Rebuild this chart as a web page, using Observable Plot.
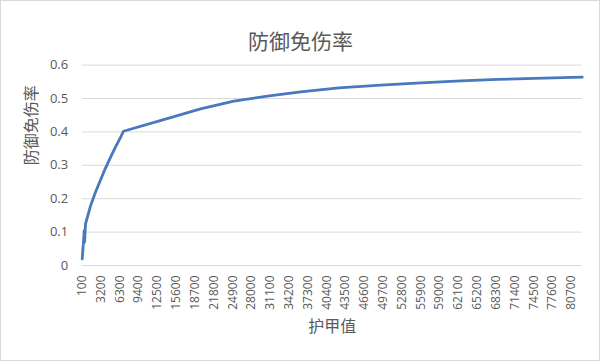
<!DOCTYPE html>
<html>
<head>
<meta charset="utf-8">
<script src="https://cdn.jsdelivr.net/npm/d3@7"></script>
<script src="https://cdn.jsdelivr.net/npm/@observablehq/plot@0.6"></script>
<style>
  html, body { margin: 0; padding: 0; background: #fff; }
  #wrap { position: relative; width: 600px; height: 361px; overflow: hidden; }
  #frame { position: absolute; left: 0; top: 0; width: 598px; height: 359px; border: 1px solid #d9d9d9; pointer-events: none; }
  svg { display: block; }
</style>
</head>
<body>
<div id="wrap"><div id="frame"></div></div>
<script>
const title = "防御免伤率";
const yLabel = "防御免伤率";
const xLabel = "护甲值";

const armor = [100, 450, 500, 650, 1500, 2300, 3100, 3900, 4800, 5600, 6400, 6900, 14100, 19600, 25100, 30600, 36100, 42400, 49300, 55900, 62500, 68500, 76200, 82500];
const rate  = [0.02, 0.105, 0.07, 0.125, 0.18, 0.22, 0.255, 0.29, 0.325, 0.355, 0.383, 0.402, 0.44, 0.469, 0.492, 0.507, 0.52, 0.532, 0.54, 0.547, 0.553, 0.557, 0.561, 0.564];

const xTicks = d3.range(100, 80701, 3100);
const yTicks = [0, 0.1, 0.2, 0.3, 0.4, 0.5, 0.6];

const data = armor.map((a, i) => ({armor: a, rate: rate[i]}));

const chart = Plot.plot({
  width: 600,
  height: 361,
  marginTop: 64.6,
  marginBottom: 96,
  marginLeft: 81.7,
  marginRight: 18.3,
  style: {background: "transparent", color: "#595959"},
  x: {domain: [100, 82500]},
  y: {domain: [0, 0.6]},
  marks: [
    Plot.gridY(yTicks, {stroke: "#d9d9d9", strokeOpacity: 1}),
    Plot.axisY(yTicks, {tickSize: 0, tickPadding: 14, label: null,
      tickFormat: d => d === 0 ? "0" : d.toFixed(1),
      fontSize: 13, fontFamily: "Open Sans", fill: "#595959"}),
    Plot.axisX(xTicks, {tickSize: 0, tickPadding: 10, tickRotate: -90, label: null,
      tickFormat: d => String(d), fontSize: 12, fontFamily: "Open Sans", fill: "#595959"}),
    Plot.line(data, {x: "armor", y: "rate", stroke: "#4878be", strokeWidth: 2.8, strokeLinejoin: "round", strokeLinecap: "round"}),
    Plot.text([title], {frameAnchor: "top", dy: -31, dx: -31.7, text: d => d, fontSize: 21,
      fontFamily: "Noto Sans CJK SC", fill: "#595959"}),
    Plot.text([yLabel], {frameAnchor: "left", dx: -50, rotate: -90, text: d => d, fontSize: 16,
      fontFamily: "Noto Sans CJK SC", fill: "#595959"}),
    Plot.text([xLabel], {frameAnchor: "bottom", dy: 66, text: d => d, fontSize: 16,
      fontFamily: "Noto Sans CJK SC", fill: "#595959"})
  ]
});
document.getElementById("wrap").prepend(chart);
</script>
</body>
</html>
